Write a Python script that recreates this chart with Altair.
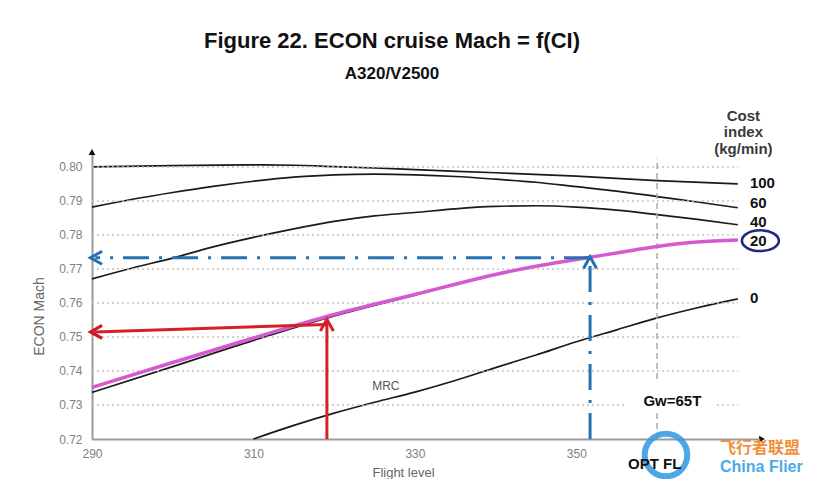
import altair as alt
import pandas as pd

# ---------------- data ----------------
CI100_FL = [290, 300, 310, 315, 320, 325, 330, 340, 350, 360, 370]
CI100_M = [0.8000, 0.8004, 0.8006, 0.8005, 0.8001, 0.7997, 0.7992, 0.7983, 0.7973, 0.7960, 0.7950]

CI60_FL = [290, 295, 300, 305, 310, 315, 320, 325, 330, 335, 340, 345, 350, 355, 360, 365, 370]
CI60_M = [0.7882, 0.7905, 0.7925, 0.7943, 0.7958, 0.7970, 0.7977, 0.7979, 0.7977, 0.7972,
          0.7964, 0.7955, 0.7942, 0.7929, 0.7913, 0.7897, 0.7880]

CI40_FL = [290, 295, 300, 305, 310, 315, 320, 325, 330, 335, 340, 345, 350, 355, 360, 365, 370]
CI40_M = [0.7671, 0.7703, 0.7732, 0.7765, 0.7793, 0.7818, 0.7840, 0.7856, 0.7866, 0.7877,
          0.7884, 0.7886, 0.7882, 0.7873, 0.7860, 0.7846, 0.7830]

CI20_FL = [290, 300, 310, 320, 330, 340, 345, 350, 355, 360, 365, 370]
CI20_M = [0.7337, 0.7413, 0.7490, 0.7562, 0.7623, 0.7684, 0.7708, 0.7728, 0.7747, 0.7766, 0.7779, 0.7785]
CI20_HILITE_M = [0.7352, 0.7425, 0.7497, 0.7566, 0.7625, 0.7684, 0.7708, 0.7728, 0.7747, 0.7766, 0.7779, 0.7785]

CI0_FL = [310, 315, 320, 325, 330, 335, 340, 345, 350, 355, 360, 365, 370]
CI0_M = [0.7200, 0.7240, 0.7276, 0.7308, 0.7338, 0.7372, 0.7410, 0.7447, 0.7486, 0.7521, 0.7556, 0.7586, 0.7612]

GRID_M = [0.73, 0.74, 0.75, 0.76, 0.77, 0.78, 0.79, 0.80]
X_TICKS = [290, 310, 330, 350]
Y_TICKS = [0.72, 0.73, 0.74, 0.75, 0.76, 0.77, 0.78, 0.79, 0.80]
OPT_FL = 360

CURVE_LABELS = ["100", "60", "40", "20", "0"]
CURVE_LABEL_M = [0.7938, 0.7880, 0.7824, 0.7768, 0.7600]

# example readings (red: FL319 -> M0.751, blue: FL352 -> M0.773)
RED_FL, RED_M_CURVE, RED_M_READ = 319.1, 0.7552, 0.7515
BLUE_FL, BLUE_M_CURVE, BLUE_M_READ = 351.7, 0.7736, 0.7733

X_DOM = [290, 373]
Y_DOM = [0.72, 0.8044]

xs = alt.Scale(domain=X_DOM, nice=False, zero=False)
ys = alt.Scale(domain=Y_DOM, nice=False, zero=False)
FONT = "Liberation Sans"

X_AXIS = alt.Axis(values=X_TICKS, grid=False, ticks=False, domainColor="#9a9a9a", domainWidth=2,
                  labelColor="#808080", labelFontSize=12, labelFont=FONT, labelPadding=9, labelFlush=False,
                  titleFont=FONT, titleFontSize=13, titleFontWeight="normal", titleColor="#666666",
                  titleX=311, titleY=37, titleBaseline="alphabetic", titleAlign="center")
Y_AXIS = alt.Axis(values=Y_TICKS, format=".2f", grid=False, ticks=False, domainColor="#9a9a9a",
                  domainWidth=2, labelColor="#808080", labelFontSize=12, labelFont=FONT, labelPadding=10,
                  labelFlush=False,
                  titleFont=FONT, titleFontSize=14, titleFontWeight="normal", titleColor="#666666",
                  titleX=-53, titleY=164, titleBaseline="middle", titleAlign="center")


def series(name, fl, m):
    return pd.DataFrame({"fl": fl, "m": m, "ci": name})


black_df = pd.concat([
    series("100", CI100_FL, CI100_M),
    series("60", CI60_FL, CI60_M),
    series("40", CI40_FL, CI40_M),
    series("20", CI20_FL, CI20_M),
    series("0", CI0_FL, CI0_M),
])
hilite_df = series("20", CI20_FL, CI20_HILITE_M)


def X():
    return alt.X("fl:Q", scale=xs, title="Flight level", axis=X_AXIS)


def Y():
    return alt.Y("m:Q", scale=ys, title="ECON Mach", axis=Y_AXIS)


curves = alt.Chart(black_df).mark_line(color="#1a1a1a", strokeWidth=1.7, interpolate="monotone").encode(
    x=X(), y=Y(), detail="ci:N")

grid = alt.Chart(pd.DataFrame({"m": GRID_M, "fl": [290] * len(GRID_M), "fl2": [370] * len(GRID_M)})).mark_rule(
    color="#c4c4c4", strokeDash=[2, 3], strokeWidth=1.5
).encode(x=X(), x2="fl2:Q", y=Y())

opt = alt.Chart(pd.DataFrame({"fl": [OPT_FL], "m": [0.72], "m2": [0.8025]})).mark_rule(
    color="#aaaaaa", strokeDash=[6, 4], strokeWidth=1.5
).encode(x=X(), y=Y(), y2="m2:Q")

hilite = alt.Chart(hilite_df).mark_line(color="#d55ad0", strokeWidth=3.5, interpolate="monotone").encode(x=X(), y=Y())

box = alt.Chart(pd.DataFrame({"fl": [356.1], "fl2": [367.3], "m": [0.7276], "m2": [0.7365]})).mark_rect(
    color="white").encode(x=X(), x2="fl2:Q", y=Y(), y2="m2:Q")

red_lines = alt.Chart(pd.DataFrame({
    "fl": [RED_FL, RED_FL], "fl2": [RED_FL, 290.3],
    "m": [0.72, 0.7537], "m2": [RED_M_CURVE - 0.0002, RED_M_READ]})).mark_rule(
    color="#d42027", strokeWidth=3).encode(x=X(), x2="fl2:Q", y=Y(), y2="m2:Q")

blue_lines = alt.Chart(pd.DataFrame({
    "fl": [BLUE_FL, BLUE_FL], "fl2": [BLUE_FL, 290.4],
    "m": [0.72, BLUE_M_READ], "m2": [BLUE_M_CURVE - 0.0002, BLUE_M_READ]})).mark_rule(
    color="#2472b4", strokeWidth=3, strokeDash=[26, 10, 3, 10]).encode(x=X(), x2="fl2:Q", y=Y(), y2="m2:Q")

LEFT = "M 1.8 -1 L 0 0 L 1.8 1"
UP = "M -1 1.8 L 0 0 L 1 1.8"
heads = pd.DataFrame({
    "fl": [RED_FL, 289.8, BLUE_FL, 289.8],
    "m": [RED_M_CURVE, RED_M_READ, BLUE_M_CURVE, BLUE_M_READ],
    "shape": [UP, LEFT, UP, LEFT],
    "col": ["#d42027", "#c81a20", "#2472b4", "#2472b4"],
})
arrowheads = alt.Chart(heads).mark_point(filled=False, size=170, strokeWidth=3, opacity=1).encode(
    x=X(), y=Y(), shape=alt.Shape("shape:N", scale=None), color=alt.Color("col:N", scale=None))

tips = alt.Chart(pd.DataFrame({"fl": [290, X_DOM[1]], "m": [Y_DOM[1], 0.72],
                               "shape": ["triangle-up", "triangle-right"]})).mark_point(
    filled=True, size=45, color="#111111", opacity=1).encode(x=X(), y=Y(), shape=alt.Shape("shape:N", scale=None))

lbl = alt.Chart(pd.DataFrame({"fl": [371.5] * 5, "m": CURVE_LABEL_M, "t": CURVE_LABELS})).mark_text(
    align="left", baseline="alphabetic", font=FONT, fontSize=15, fontWeight="bold", color="#111111").encode(
    x=X(), y=Y(), text="t:N")

ellipse = alt.Chart(pd.DataFrame({"fl": [372.8], "m": [0.77832]})).mark_point(
    shape="M -1 0 A 1 0.56 0 1 1 1 0 A 1 0.56 0 1 1 -1 0 Z", size=1369, filled=False,
    strokeWidth=2.6, color="#1c2a80", opacity=1).encode(x=X(), y=Y())

cost = alt.Chart(pd.DataFrame({"fl": [370.7], "m": [0.81362], "t": ["Cost\nindex\n(kg/min)"]})).mark_text(
    align="center", baseline="alphabetic", lineBreak="\n", lineHeight=16.5, font=FONT, fontSize=15,
    fontWeight="bold", color="#3a3a3a").encode(x=X(), y=Y(), text="t:N")

mrc = alt.Chart(pd.DataFrame({"fl": [326.4], "m": [0.73441], "t": ["MRC"]})).mark_text(
    align="center", baseline="alphabetic", font=FONT, fontSize=12, color="#555555").encode(x=X(), y=Y(), text="t:N")

gw = alt.Chart(pd.DataFrame({"fl": [361.9], "m": [0.72971], "t": ["Gw=65T"]})).mark_text(
    align="center", baseline="alphabetic", font=FONT, fontSize=15, fontWeight="bold", color="#111111").encode(
    x=X(), y=Y(), text="t:N")

ring = alt.Chart(pd.DataFrame({"fl": [361.1], "m": [0.71530]})).mark_point(
    shape="circle", size=1810, filled=False, strokeWidth=6, color="#3a9ee4", opacity=0.9).encode(x=X(), y=Y())

optl = alt.Chart(pd.DataFrame({"fl": [359.7], "m": [0.71118], "t": ["OPT FL"]})).mark_text(
    align="center", baseline="alphabetic", font=FONT, fontSize=15, fontWeight="bold", color="#111111").encode(
    x=X(), y=Y(), text="t:N")

wm1 = alt.Chart(pd.DataFrame({"fl": [367.8], "m": [0.71590], "t": ["飞行者联盟"]})).mark_text(
    align="left", baseline="alphabetic", font="Noto Sans CJK SC", fontSize=16, fontWeight="bold",
    color="#f0903a").encode(x=X(), y=Y(), text="t:N")
wm2 = alt.Chart(pd.DataFrame({"fl": [367.8], "m": [0.71030], "t": ["China Flier"]})).mark_text(
    align="left", baseline="alphabetic", font=FONT, fontSize=16, fontWeight="bold",
    color="#4aaae8").encode(x=X(), y=Y(), text="t:N")

chart = alt.layer(
    curves, grid, opt, hilite, box, red_lines, blue_lines, arrowheads, tips,
    lbl, ellipse, cost, mrc, gw, ring, optl, wm1, wm2,
).properties(
    width=670, height=287,
    title=alt.TitleParams(
        text="Figure 22. ECON cruise Mach = f(CI)", subtitle="A320/V2500",
        font=FONT, fontSize=22, fontWeight="bold", color="#111111",
        subtitleFont=FONT, subtitleFontSize=17, subtitleFontWeight="bold", subtitleColor="#111111",
        anchor="middle", frame="group", dx=-35, offset=26, subtitlePadding=13,
    ),
    autosize=alt.AutoSizeParams(type="none"),
    padding={"left": 84, "top": 144, "right": 51, "bottom": 40},
    background="white",
).configure_view(stroke=None)

chart.save("out.html", embed_options={"renderer": "svg", "actions": False})
